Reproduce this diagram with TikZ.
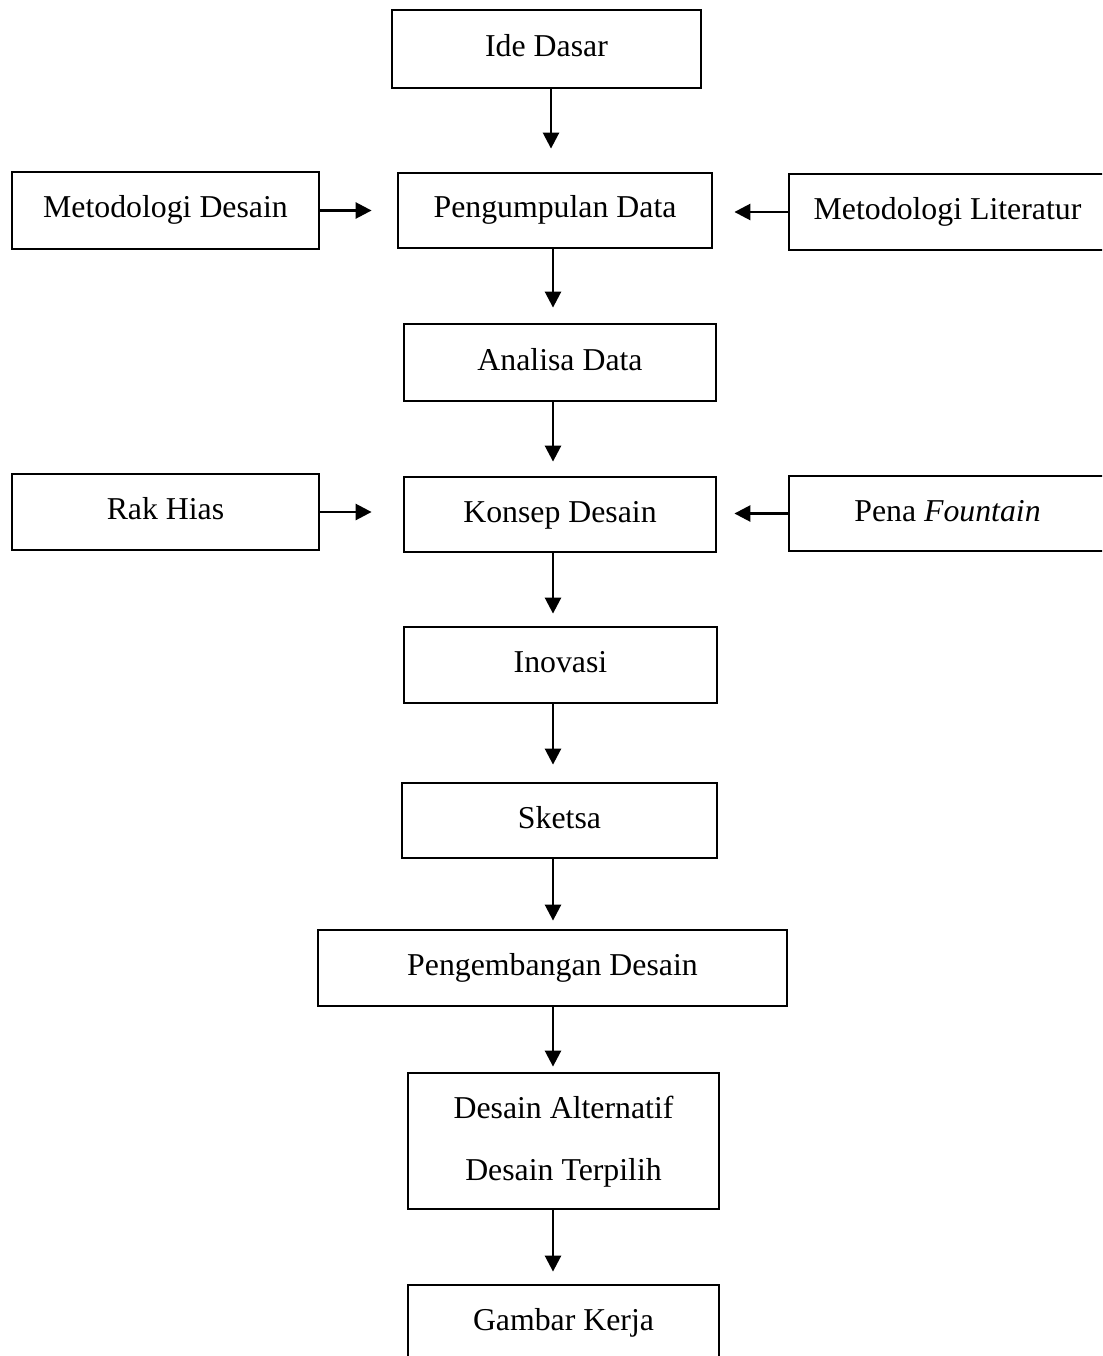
\documentclass[tikz,border=0pt]{standalone}
\usepackage{fontspec}
\setmainfont{Liberation Serif}
\usetikzlibrary{arrows.meta}
\begin{document}
\begin{tikzpicture}[x=1pt,y=-1pt,
  box/.style={draw, line width=2.8pt, inner sep=0pt, anchor=center,
    text height=22pt, text depth=7pt,
    font=\fontsize{31.8}{38}\selectfont},
  lbl/.style={inner sep=0pt, anchor=base, font=\fontsize{31.8}{38}\selectfont},
  arr/.style={line width=2.6pt, -{Triangle[length=16pt,width=16pt]}}]
\useasboundingbox (0,0) rectangle (1102,1356);
\clip (0,0) rectangle (1102,1356);
% boxes
\node[box, minimum width=309pt, minimum height=78pt] (ide) at (546.5,49) {Ide Dasar};
\node[box, minimum width=314pt, minimum height=75pt] (peng) at (555,210.5) {Pengumpulan Data};
\node[box, minimum width=307pt, minimum height=77pt] (metd) at (165.5,210.5) {Metodologi Desain};
\node[box, minimum width=317pt, minimum height=76pt] (metl) at (947.5,212) {Metodologi Literatur};
\node[box, minimum width=312pt, minimum height=77pt] (ana) at (560,362.5) {Analisa Data};
\node[box, minimum width=307pt, minimum height=76pt] (rak) at (165.5,512) {Rak Hias};
\node[box, minimum width=312pt, minimum height=75pt] (kon) at (560,514.5) {Konsep Desain};
\node[box, minimum width=317pt, minimum height=75pt] (pena) at (947.5,513.5) {Pena \textit{Fountain}};
\node[box, minimum width=313pt, minimum height=76pt] (ino) at (560.5,665) {Inovasi};
\node[box, minimum width=315pt, minimum height=75pt] (ske) at (559.5,820.5) {Sketsa};
\node[box, minimum width=469pt, minimum height=76pt] (pen) at (552.5,968) {Pengembangan Desain};
\node[box, minimum width=311pt, minimum height=136pt] (alt) at (563.5,1141) {};
\node[lbl] (altA) at (563.5,1118) {Desain Alternatif};
\node[lbl] (altB) at (563.5,1180) {Desain Terpilih};
\node[box, minimum width=311pt, minimum height=76pt] (gam) at (563.5,1323) {Gambar Kerja};
% arrow columns
\coordinate (ax1) at (551,0);
\coordinate (ax) at (553,0);
% vertical arrows
\draw[arr, shorten >=23pt] (ide.south -| ax1) -- (peng.north -| ax1);
\draw[arr, shorten >=15pt] (peng.south -| ax) -- (ana.north -| ax);
\draw[arr, shorten >=14pt] (ana.south -| ax) -- (kon.north -| ax);
\draw[arr, shorten >=12pt] (kon.south -| ax) -- (ino.north -| ax);
\draw[arr, shorten >=17pt] (ino.south -| ax) -- (ske.north -| ax);
\draw[arr, shorten >=8pt] (ske.south -| ax) -- (pen.north -| ax);
\draw[arr, shorten >=5pt] (pen.south -| ax) -- (alt.north -| ax);
\draw[arr, shorten >=12pt] (alt.south -| ax) -- (gam.north -| ax);
% horizontal arrows
\draw[arr, shorten >=25pt] (metd.east) -- (metd.east -| peng.west);
\draw[arr, shorten >=21pt] (metl.west) -- (metl.west -| peng.east);
\draw[arr, shorten >=31pt] (rak.east) -- (rak.east -| kon.west);
\draw[arr, shorten >=17pt] (pena.west) -- (pena.west -| kon.east);
\end{tikzpicture}
\end{document}
